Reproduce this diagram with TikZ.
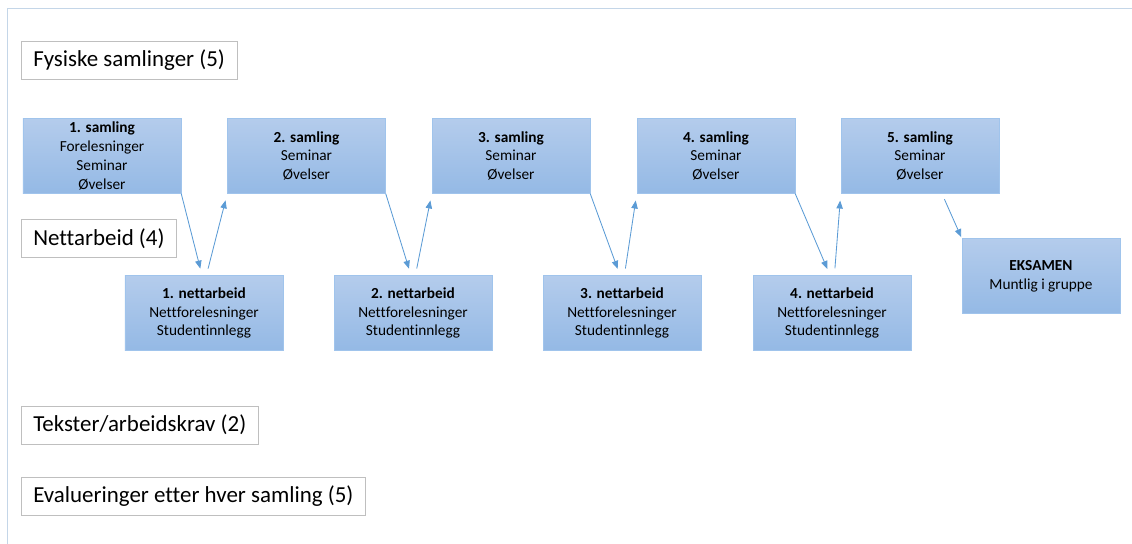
\documentclass[tikz,border=0pt]{standalone}
\usepackage{fontspec}
\setmainfont[Ligatures=NoCommon]{Carlito}
\usetikzlibrary{arrows.meta}

\definecolor{boxtop}{RGB}{180,204,236}
\definecolor{boxbot}{RGB}{148,185,229}
\definecolor{boxline}{RGB}{160,196,236}
\definecolor{pil}{RGB}{91,155,213}
\definecolor{ramme}{RGB}{196,214,232}

\begin{document}
\begin{tikzpicture}[x=0.25mm,y=-0.25mm,
    okt/.style={draw=boxline,top color=boxtop,bottom color=boxbot,
      inner sep=0pt,minimum width=39.5mm,minimum height=18.75mm,align=center,
      font=\fontsize{10.9}{13.4}\selectfont},
    merk/.style={draw=black!25,fill=white,anchor=west,inner xsep=3mm,
      minimum height=9.5mm,font=\fontsize{16.3}{19}\selectfont},
    pilen/.style={draw=pil,line width=0.6pt,-{Triangle[length=2mm,width=1.6mm]}}]
      \useasboundingbox (0,0) rectangle (1132,544);
      \draw[ramme,line width=0.7pt] (7,544) -- (7,8) -- (1132,8);

      % overskrifter til venstre
      \draw
        (21,60.5) node[merk] (fys){Fysiske samlinger (5)}
        (21,238.5) node[merk] (nett){Nettarbeid (4)}
        (21,425) node[merk] (tekst){Tekster/arbeidskrav (2)}
        (21,496.5) node[merk] (eval){Evalueringer etter hver samling (5)};

      % samlinger
      \draw
        (102,156) node[okt] (s1){\textbf{1. samling}\\Forelesninger\\Seminar\\Øvelser}
        (306.5,156) node[okt] (s2){\textbf{2. samling}\\Seminar\\Øvelser}
        (511,156) node[okt] (s3){\textbf{3. samling}\\Seminar\\Øvelser}
        (716,156) node[okt] (s4){\textbf{4. samling}\\Seminar\\Øvelser}
        (920,156) node[okt] (s5){\textbf{5. samling}\\Seminar\\Øvelser};

      % nettarbeid og eksamen
      \draw
        (204,313) node[okt] (n1){\textbf{1. nettarbeid}\\Nettforelesninger\\Studentinnlegg}
        (413,313) node[okt] (n2){\textbf{2. nettarbeid}\\Nettforelesninger\\Studentinnlegg}
        (622,313) node[okt] (n3){\textbf{3. nettarbeid}\\Nettforelesninger\\Studentinnlegg}
        (832,313) node[okt] (n4){\textbf{4. nettarbeid}\\Nettforelesninger\\Studentinnlegg}
        (1041,276) node[okt] (ex){\textbf{EKSAMEN}\\Muntlig i gruppe};

      \begin{scope}[pilen,shorten >=1.7mm]
        \draw (s1.south east) to ([xshift=-0.5mm]n1.north);
        \draw[shorten <=1.7mm] ([xshift=0.6mm]n1.north) to (s2.south west);
        \draw (s2.south east) to ([xshift=-0.5mm]n2.north);
        \draw[shorten <=1.7mm] ([xshift=0.6mm]n2.north) to (s3.south west);
        \draw (s3.south east) to ([xshift=-0.5mm]n3.north);
        \draw[shorten <=1.7mm] ([xshift=0.6mm]n3.north) to (s4.south west);
        \draw (s4.south east) to ([xshift=-0.5mm]n4.north);
        \draw[shorten <=1.7mm] ([xshift=0.6mm]n4.north) to (s5.south west);
        \draw[shorten <=1.5mm,shorten >=0.3mm] ([xshift=5.5mm]s5.south) to (ex.north west);
      \end{scope}

    \end{tikzpicture}
\end{document}
